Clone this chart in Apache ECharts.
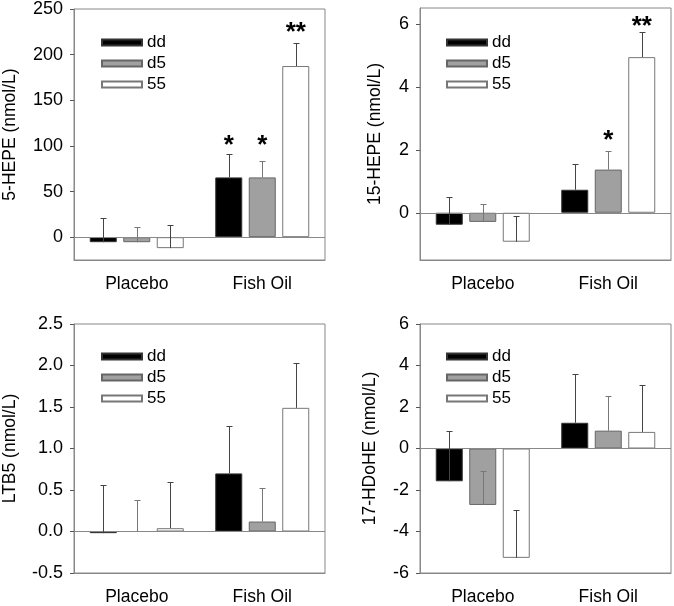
<!DOCTYPE html>
<html>
<head>
<meta charset="utf-8">
<script src="https://cdn.jsdelivr.net/npm/echarts@6/dist/echarts.min.js"></script>
<style>html,body{margin:0;padding:0;background:#fff}#c{width:674px;height:606px}</style>
</head>
<body>
<div id="c"></div>
<script>
// ---- data ----
const categories = ['Placebo', 'Fish Oil'];
const groups = ['dd', 'd5', '55'];

// 5-HEPE (nmol/L)
const hepe5_dd = [-5.5, 65.5];
const hepe5_d5 = [-5.5, 65.5];
const hepe5_55 = [-12, 187.5];
const hepe5_se_dd = [26, 25.5];
const hepe5_se_d5 = [17, 18];
const hepe5_se_55 = [25, 25];
const hepe5_stars = [[1, 0, 106, '*'], [1, 1, 106, '*'], [1, 2, 229, '**']];
const hepe5_ticks = [0, 50, 100, 150, 200, 250];

// 15-HEPE (nmol/L)
const hepe15_dd = [-0.38, 0.73];
const hepe15_d5 = [-0.29, 1.37];
const hepe15_55 = [-0.92, 4.94];
const hepe15_se_dd = [0.87, 0.83];
const hepe15_se_d5 = [0.56, 0.59];
const hepe15_se_55 = [0.81, 0.79];
const hepe15_stars = [[1, 1, 2.43, '*'], [1, 2, 6.06, '**']];
const hepe15_ticks = [0, 2, 4, 6];

// LTB5 (nmol/L)
const ltb5_dd = [-0.02, 0.70];
const ltb5_d5 = [0, 0.12];
const ltb5_55 = [0.04, 1.49];
const ltb5_se_dd = [0.58, 0.57];
const ltb5_se_d5 = [0.38, 0.40];
const ltb5_se_55 = [0.56, 0.54];
const ltb5_stars = [];
const ltb5_ticks = [-0.5, 0, 0.5, 1.0, 1.5, 2.0, 2.5];

// 17-HDoHE (nmol/L)
const hdohe_dd = [-1.58, 1.24];
const hdohe_d5 = [-2.72, 0.86];
const hdohe_55 = [-5.27, 0.80];
const hdohe_se_dd = [2.44, 2.35];
const hdohe_se_d5 = [1.64, 1.68];
const hdohe_se_55 = [2.32, 2.26];
const hdohe_stars = [];
const hdohe_ticks = [-6, -4, -2, 0, 2, 4, 6];

// ---- layout / style ----
const FONT = 'Liberation Sans, Arial, sans-serif';
const BAR_W = 27, GAP_PX = 6.5;
const fills = ['#000000', '#a0a0a0', '#ffffff'];
const borders = ['#333333', '#666666', '#777777'];
const errColors = ['#444444', '#777777', '#444444'];

const panels = [
  { name: '5-HEPE (nmol/L)', means: [hepe5_dd, hepe5_d5, hepe5_55], se: [hepe5_se_dd, hepe5_se_d5, hepe5_se_55], stars: hepe5_stars, ticks: hepe5_ticks, min: -25, max: 250, dec: 0,
    grid: { left: 74, top: 8, width: 251, height: 252 }, nameGap: 55, legend: { left: 96, top: 29 } },
  { name: '15-HEPE (nmol/L)', means: [hepe15_dd, hepe15_d5, hepe15_55], se: [hepe15_se_dd, hepe15_se_d5, hepe15_se_55], stars: hepe15_stars, ticks: hepe15_ticks, min: -1.5, max: 6.5, dec: 0,
    grid: { left: 420, top: 8, width: 251, height: 252 }, nameGap: 36, legend: { left: 441, top: 29 } },
  { name: 'LTB5 (nmol/L)', means: [ltb5_dd, ltb5_d5, ltb5_55], se: [ltb5_se_dd, ltb5_se_d5, ltb5_se_55], stars: ltb5_stars, ticks: ltb5_ticks, min: -0.5, max: 2.5, dec: 1,
    grid: { left: 74, top: 324, width: 251, height: 251 }, nameGap: 55, legend: { left: 96, top: 343 } },
  { name: '17-HDoHE (nmol/L)', means: [hdohe_dd, hdohe_d5, hdohe_55], se: [hdohe_se_dd, hdohe_se_d5, hdohe_se_55], stars: hdohe_stars, ticks: hdohe_ticks, min: -6, max: 6, dec: 0,
    grid: { left: 420, top: 324, width: 251, height: 251 }, nameGap: 41, legend: { left: 441, top: 343 } }
];

const grid = [], xAxis = [], yAxis = [], legend = [], series = [];

panels.forEach((p, gi) => {
  grid.push(Object.assign({ show: true, borderColor: '#888888', borderWidth: 1, backgroundColor: 'transparent' }, p.grid));
  xAxis.push({
    type: 'category', gridIndex: gi, data: categories, position: 'bottom',
    axisLine: { onZero: false, lineStyle: { color: '#888888' } },
    axisTick: { alignWithLabel: true, length: 4, lineStyle: { color: '#555555' } },
    axisLabel: { color: '#000', fontSize: 17.5, fontFamily: FONT, margin: 15 },
    splitLine: { show: false }
  });
  yAxis.push({
    type: 'value', gridIndex: gi, min: p.min, max: p.max,
    name: p.name, nameLocation: 'middle', nameRotate: 90, nameGap: p.nameGap,
    nameTextStyle: { color: '#000', fontSize: 17.5, fontFamily: FONT },
    axisLine: { show: true, lineStyle: { color: '#888888' } },
    axisTick: { show: true, length: 4, customValues: p.ticks, lineStyle: { color: '#555555' } },
    axisLabel: { color: '#000', fontSize: 18, fontFamily: FONT, margin: 11, customValues: p.ticks,
      formatter: v => Number(v).toFixed(p.dec) },
    splitLine: { show: false }
  });
  legend.push({
    data: groups.slice(), orient: 'vertical', left: p.legend.left, top: p.legend.top,
    icon: 'rect', itemWidth: 40, itemHeight: 6, itemGap: 4, selectedMode: false,
    textStyle: { color: '#000', fontSize: 17, fontFamily: FONT }
  });
  groups.forEach((g, si) => {
    const s = {
      type: 'bar', name: g, xAxisIndex: gi, yAxisIndex: gi, data: p.means[si],
      barWidth: BAR_W, barGap: (GAP_PX / BAR_W * 100) + '%',
      itemStyle: { color: fills[si], borderColor: borders[si], borderWidth: 1 },
      emphasis: { disabled: true }, silent: true, z: 2
    };
    if (si === 0) {
      s.markLine = { silent: true, symbol: 'none', label: { show: false },
        lineStyle: { color: '#888888', type: 'solid', width: 1 }, data: [{ yAxis: 0 }] };
    }
    series.push(s);
  });
  // error bars (upper only)
  const errData = [];
  groups.forEach((g, si) => {
    p.means[si].forEach((m, ci) => errData.push([ci, si, m, m + p.se[si][ci]]));
  });
  series.push({
    type: 'custom', xAxisIndex: gi, yAxisIndex: gi, data: errData, silent: true, z: 5,
    renderItem: (params, api) => {
      const ci = api.value(0), si = api.value(1);
      const a = api.coord([ci, api.value(2)]);
      const b = api.coord([ci, api.value(3)]);
      const x = Math.round(a[0] + (si - 1) * (BAR_W + GAP_PX)) + 0.5;
      const y1 = a[1], y2 = Math.round(b[1]) + 0.5;
      const st = { stroke: errColors[si], lineWidth: 1 };
      return { type: 'group', children: [
        { type: 'line', shape: { x1: x, y1: y1, x2: x, y2: y2 }, style: st },
        { type: 'line', shape: { x1: x - 3, y1: y2, x2: x + 3, y2: y2 }, style: st }
      ] };
    }
  });
  // significance stars
  if (p.stars.length) {
    series.push({
      type: 'custom', xAxisIndex: gi, yAxisIndex: gi, data: p.stars, silent: true, z: 6,
      renderItem: (params, api) => {
        const ci = api.value(0), si = api.value(1);
        const pt = api.coord([ci, api.value(2)]);
        const x = pt[0] + (si - 1) * (BAR_W + GAP_PX);
        return { type: 'text', x: x, y: pt[1] + 5,
          style: { text: p.stars[params.dataIndex][3], fill: '#000', font: 'bold 26px ' + FONT,
            textAlign: 'center', textVerticalAlign: 'middle' } };
      }
    });
  }
});

const chart = echarts.init(document.getElementById('c'), null, { renderer: 'canvas' });
chart.setOption({ animation: false, backgroundColor: '#ffffff', grid, xAxis, yAxis, legend, series });
</script>
</body>
</html>
